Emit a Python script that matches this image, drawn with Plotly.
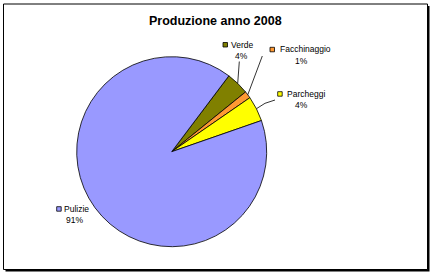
import plotly.graph_objects as go
import math

categories = ["Verde", "Facchinaggio", "Parcheggi", "Pulizie"]
values = [3.9, 1.2, 4.3, 90.6]
colors = ["#808000", "#FF9933", "#FFFF00", "#9999FF"]
title = "Produzione anno 2008"

W, H = 436, 276
ROT = 37.0
cx, cy, R = 171.7, 151.7, 95.0

def px(x):
    return x / W

def py(y):
    return 1 - y / H

fig = go.Figure()
fig.add_trace(go.Pie(
    labels=categories, values=values, sort=False, direction="clockwise",
    rotation=ROT, marker=dict(colors=colors, line=dict(color="black", width=0.8)),
    textinfo="none", hoverinfo="label+percent", showlegend=False,
    domain=dict(x=[px(cx - R), px(cx + R)], y=[py(cy + R), py(cy - R)]),
))

total = sum(values)
pct = [int(v / total * 100 + 0.5) for v in values]

label_pos = {
    "Verde": dict(sq=(223, 42.5), tx=229, pcx=241.7, y1=44.7, y2=55.5, lead=[(239.3, 61.5)]),
    "Facchinaggio": dict(sq=(270, 47.3), tx=278, pcx=301.7, y1=49.3, y2=61.3, lead=[(262.3, 56)]),
    "Parcheggi": dict(sq=(277.7, 91.7), tx=285, pcx=301.7, y1=93.7, y2=105.3, lead=[(275, 100), (265, 103.3)]),
    "Pulizie": dict(sq=(56.7, 206.7), tx=61.5, pcx=74.7, y1=208.7, y2=219.5, lead=None),
}

shapes = []
shapes.append(dict(type="rect", xref="paper", yref="paper", x0=px(5.5), x1=px(429.5), y0=py(271.5), y1=py(6),
                   fillcolor="black", line=dict(width=0), layer="below"))
shapes.append(dict(type="rect", xref="paper", yref="paper", x0=px(3.5), x1=px(427.5), y0=py(269.5), y1=py(4),
                   fillcolor="white", line=dict(color="black", width=1), layer="below"))

annotations = []
cum = 0.0
for cat, v, col, p in zip(categories, values, colors, pct):
    mid = ROT + (cum + v / 2) / total * 360
    cum += v
    lp = label_pos[cat]
    sx, sy = lp["sq"]
    shapes.append(dict(type="rect", xref="paper", yref="paper", x0=px(sx), x1=px(sx + 4.5),
                       y0=py(sy + 4.5), y1=py(sy), fillcolor=col, line=dict(color="black", width=0.8)))
    annotations.append(dict(text=cat, x=px(lp["tx"]), y=py(lp["y1"]), xref="paper", yref="paper",
                            xanchor="left", yanchor="middle", showarrow=False,
                            font=dict(family="Liberation Sans, Arial", size=8.5, color="black")))
    annotations.append(dict(text=f"{p}%", x=px(lp["pcx"]), y=py(lp["y2"]), xref="paper", yref="paper",
                            xanchor="center", yanchor="middle", showarrow=False,
                            font=dict(family="Liberation Sans, Arial", size=8.5, color="black")))
    if lp["lead"]:
        a = math.radians(mid)
        ex, ey = cx + R * math.sin(a), cy - R * math.cos(a)
        pts = lp["lead"] + [(ex, ey)]
        for (x0, y0), (x1, y1) in zip(pts[:-1], pts[1:]):
            shapes.append(dict(type="line", xref="paper", yref="paper", x0=px(x0), y0=py(y0),
                               x1=px(x1), y1=py(y1), line=dict(color="black", width=0.8)))

annotations.append(dict(text=f"<b>{title}</b>", x=px(215.5), y=py(20.5), xref="paper", yref="paper",
                        xanchor="center", yanchor="middle", showarrow=False,
                        font=dict(family="Liberation Sans, Arial", size=12.5, color="black")))

fig.update_layout(width=W, height=H, margin=dict(l=0, r=0, t=0, b=0),
                  paper_bgcolor="white", plot_bgcolor="white",
                  shapes=shapes, annotations=annotations)
fig.write_html("out.html")
